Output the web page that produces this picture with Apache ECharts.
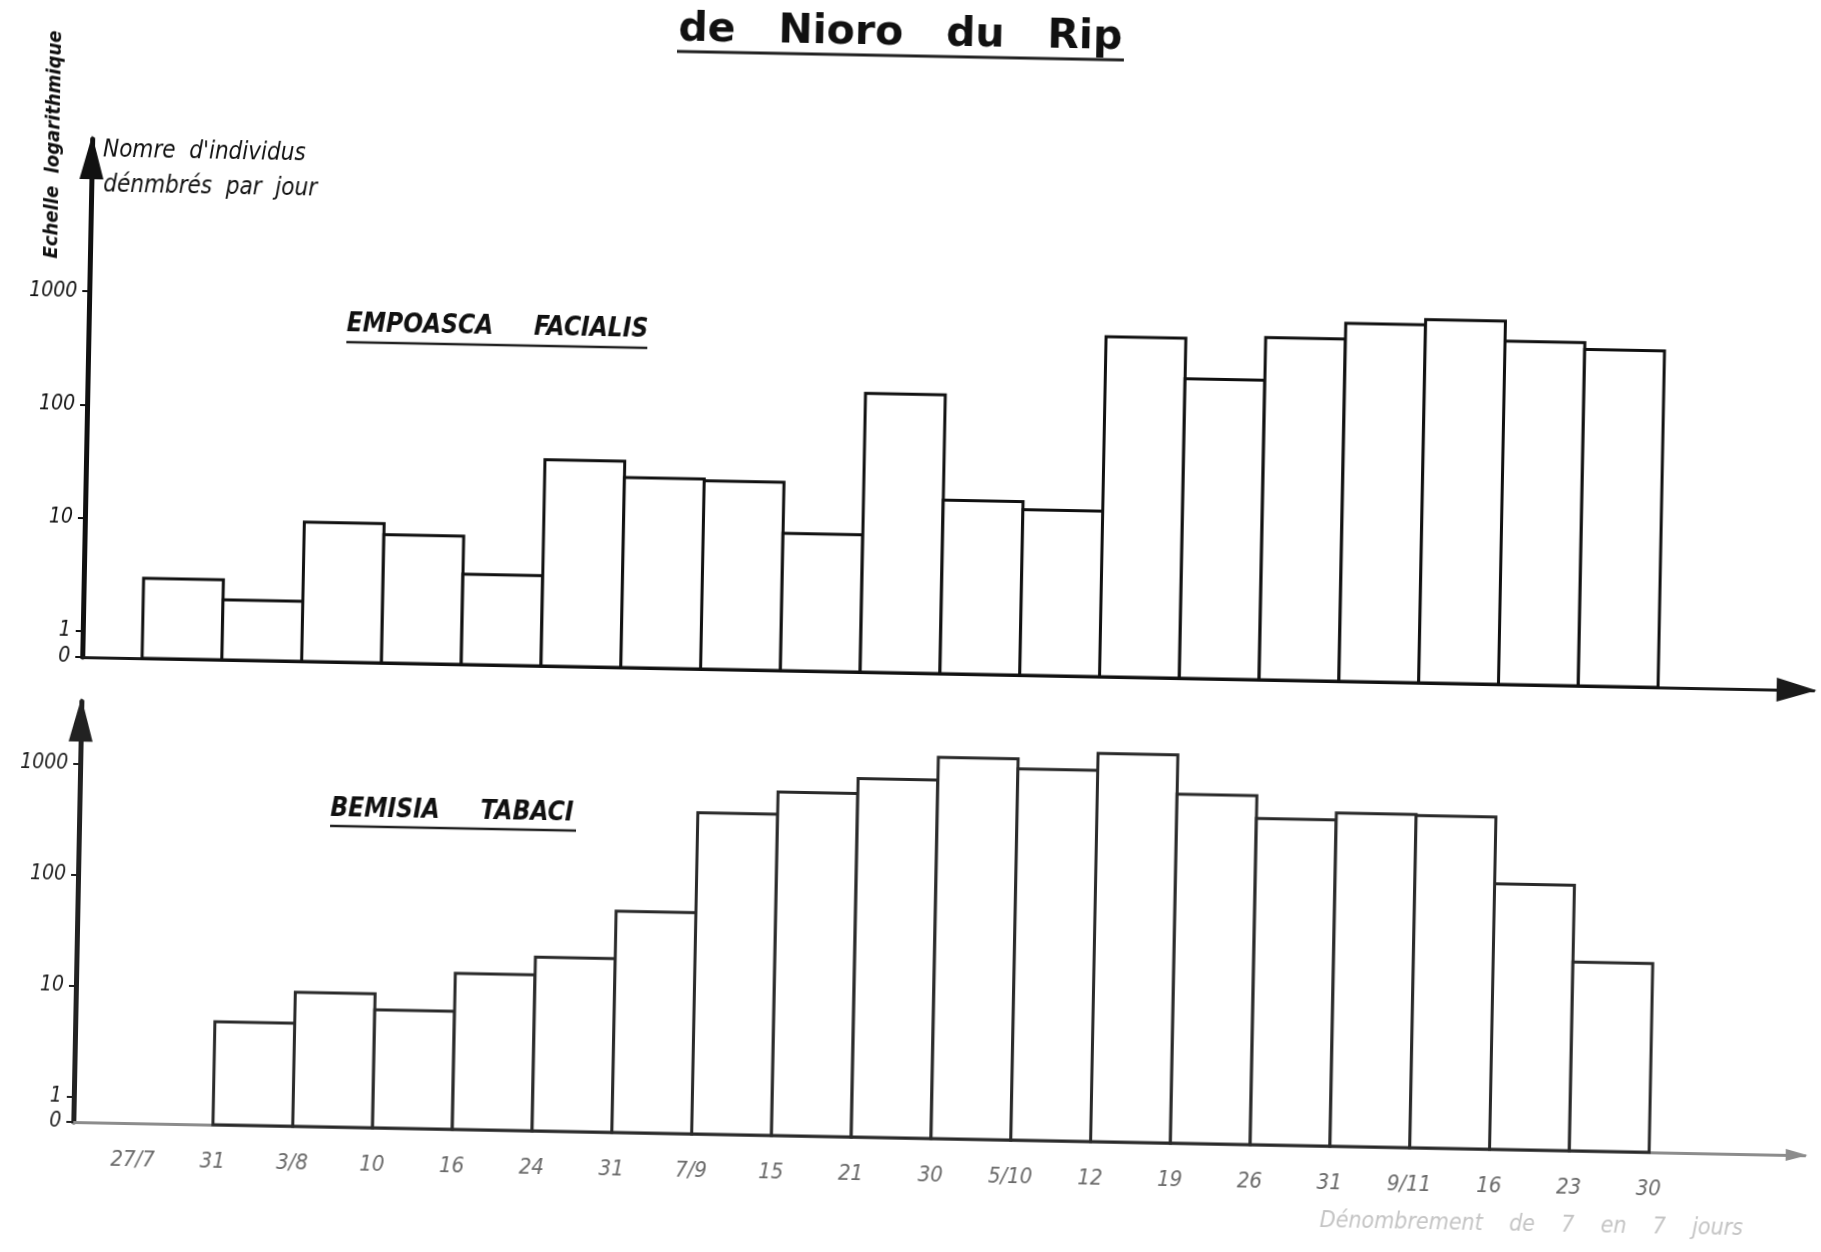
<!DOCTYPE html>
<html>
<head>
<meta charset="utf-8">
<script src="https://cdn.jsdelivr.net/npm/echarts@6/dist/echarts.min.js"></script>
<style>
  html, body { margin: 0; padding: 0; background: #fff; overflow: hidden; }
  /* the sheet sits slightly askew, as on the copied page */
  #chart { width: 1821px; height: 1252px; transform: rotate(1.1deg); transform-origin: 910.5px 626px; }
</style>
</head>
<body>
<div id="chart"></div>
<script>
// Sampling dates (interval boundaries of the histogram)
const dates = ['27/7', '31', '3/8', '10', '16', '24', '31', '7/9', '15', '21', '30',
               '5/10', '12', '19', '26', '31', '9/11', '16', '23', '30'];

// Individuals counted per day over each interval between two dates
const empoascaCounts = [3, 2, 10, 8, 3.7, 39, 28, 27, 9.6, 170, 20, 17, 590, 260, 620, 850, 950, 630, 550];
const bemisiaCounts = [null, 5, 9.5, 6.8, 15, 21.6, 58, 460, 730, 1000, 1600, 1300, 1850, 820, 510, 590, 580, 145, 29.5];

// Log-scale ticks; the lowest one is the "0" line drawn under 1
const yTicks = [0.59, 1, 10, 100, 1000];
const yFloor = 0.59;

const FONT = '"DejaVu Sans Condensed", "DejaVu Sans", sans-serif';

function toIntervals(counts) {
  return counts.map((v, i) => (v == null ? null : [i, v])).filter(Boolean);
}

// one histogram column per interval, from date i to date i+1
function stepRect(stroke) {
  return function (params, api) {
    const i = api.value(0);
    const v = api.value(1);
    const top = api.coord([i, v]);
    const bottom = api.coord([i + 1, yFloor]);
    return {
      type: 'rect',
      shape: { x: top[0], y: top[1], width: bottom[0] - top[0], height: bottom[1] - top[1] },
      style: { fill: '#fff', stroke: stroke, lineWidth: 3 }
    };
  };
}

function yAxis(gridIndex, max, color, arrow) {
  return {
    type: 'log', logBase: 10, gridIndex: gridIndex, min: yFloor, max: max,
    axisLine: {
      show: true, onZero: false, lineStyle: { color: color, width: 5 },
      symbol: ['none', 'triangle'], symbolSize: arrow, symbolOffset: [0, -arrow[1] / 2 + 4]
    },
    axisTick: { show: true, length: 7, lineStyle: { color: color, width: 2 }, customValues: yTicks },
    axisLabel: {
      customValues: yTicks, margin: 12, color: color, fontStyle: 'italic', fontSize: 21, fontFamily: FONT,
      formatter: v => (v < 1 ? '0' : String(Math.round(v)))
    },
    splitLine: { show: false },
    minorTick: { show: false }
  };
}

function xAxis(gridIndex, color, width, arrow, withLabels) {
  return {
    type: 'value', gridIndex: gridIndex, min: -0.75, max: 20.95,
    axisLine: {
      show: true, onZero: false, lineStyle: { color: color, width: width },
      symbol: ['none', 'triangle'], symbolSize: arrow, symbolOffset: [0, -arrow[1] / 2 + 3]
    },
    axisTick: { show: false },
    splitLine: { show: false },
    axisLabel: withLabels ? {
      customValues: dates.map((d, i) => i), margin: 26, color: '#6a6a6a',
      fontStyle: 'italic', fontSize: 22, fontFamily: FONT,
      formatter: v => dates[Math.round(v)]
    } : { show: false }
  };
}

const chart = echarts.init(document.getElementById('chart'));

chart.setOption({
  backgroundColor: '#fff',
  animation: false,
  grid: [
    { left: 83, top: 155, width: 1731.7, height: 518 },
    { left: 83, top: 717.6, width: 1731.7, height: 420.4 }
  ],
  xAxis: [
    xAxis(0, '#1a1a1a', 3, [24, 40], false),
    xAxis(1, '#8c8c8c', 3, [12, 22], true)
  ],
  yAxis: [
    yAxis(0, 22000, '#111', [24, 44]),
    yAxis(1, 3600, '#222', [24, 44])
  ],
  series: [
    {
      name: 'EMPOASCA FACIALIS', type: 'custom', xAxisIndex: 0, yAxisIndex: 0,
      renderItem: stepRect('#111'), encode: { x: 0, y: 1 },
      data: toIntervals(empoascaCounts)
    },
    {
      name: 'BEMISIA TABACI', type: 'custom', xAxisIndex: 1, yAxisIndex: 1,
      renderItem: stepRect('#2a2a2a'), encode: { x: 0, y: 1 },
      data: toIntervals(bemisiaCounts)
    }
  ],
  graphic: [
    { type: 'text', x: 889, y: 34, style: { text: 'de   Nioro   du   Rip', font: 'bold 41px "DejaVu Sans", sans-serif', fill: '#111', align: 'center', verticalAlign: 'middle' } },
    { type: 'line', shape: { x1: 666, y1: 56, x2: 1113, y2: 56 }, style: { stroke: '#222', lineWidth: 3 } },

    { type: 'text', x: 45, y: 161, rotation: Math.PI / 2, style: { text: 'Echelle  logarithmique', font: 'bold italic 20px ' + FONT, fill: '#111', align: 'center', verticalAlign: 'middle' } },
    { type: 'text', x: 94, y: 166, style: { text: "Nomre  d'individus", font: 'italic 24px ' + FONT, fill: '#111', align: 'left', verticalAlign: 'middle' } },
    { type: 'text', x: 95, y: 201, style: { text: 'dénmbrés  par  jour', font: 'italic 24px ' + FONT, fill: '#111', align: 'left', verticalAlign: 'middle' } },

    { type: 'text', x: 341, y: 335, style: { text: 'EMPOASCA     FACIALIS', font: 'bold italic 26px ' + FONT, fill: '#111', align: 'left', verticalAlign: 'middle' } },
    { type: 'line', shape: { x1: 341, y1: 353, x2: 642, y2: 353 }, style: { stroke: '#222', lineWidth: 2.5 } },

    { type: 'text', x: 334, y: 820, style: { text: 'BEMISIA     TABACI', font: 'bold italic 26px ' + FONT, fill: '#111', align: 'left', verticalAlign: 'middle' } },
    { type: 'line', shape: { x1: 334, y1: 837, x2: 580, y2: 837 }, style: { stroke: '#222', lineWidth: 2.5 } },

    { type: 'text', x: 1331, y: 1213, style: { text: 'Dénombrement    de    7    en    7    jours', font: 'italic 23px ' + FONT, fill: '#c4c4c4', align: 'left', verticalAlign: 'middle' } }
  ]
});
</script>
</body>
</html>
